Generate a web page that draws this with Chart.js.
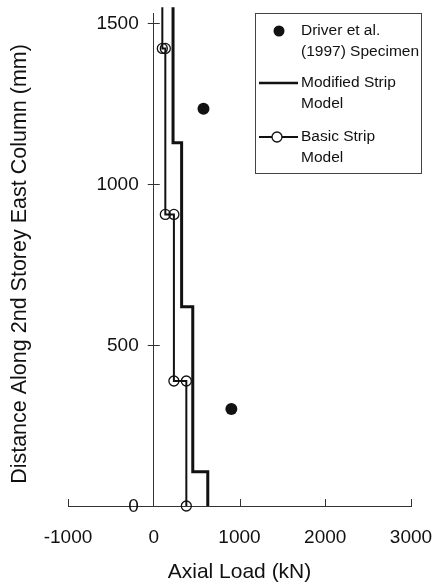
<!DOCTYPE html>
<html>
<head>
<meta charset="utf-8">
<script src="https://cdn.jsdelivr.net/npm/chart.js@4/dist/chart.umd.min.js"></script>
<style>
  html, body { margin: 0; padding: 0; background: #fff; }
  #wrap { width: 434px; height: 588px; }
</style>
</head>
<body>
<div id="wrap"><canvas id="chart1"></canvas></div>
<script>
// values (load in kN, distance in mm)
const driverLoad = [580, 905];
const driverDist = [1233, 301];

const modifiedLoad = [225, 225, 325, 325, 455, 455, 630, 630];
const modifiedDist = [1548, 1127, 1127, 618, 618, 106, 106, 0];

const basicLoad = [100, 100, 135, 135, 235, 235, 380, 380];
const basicDist = [1548, 1420, 1420, 905, 905, 388, 388, 0];
const basicMarks = [0, 5, 5, 5, 5, 5, 5, 5];

const xTicks = [-1000, 0, 1000, 2000, 3000];
const yTicks = [0, 500, 1000, 1500];

const FONT = 'Arial, "Liberation Sans", sans-serif';
const INK = '#111';

const toXY = (xs, ys) => xs.map((v, i) => ({ x: v, y: ys[i] }));

// axes sit inside the plot, so their label overflow should not shrink it
const noPad = s => { s.paddingLeft = s.paddingRight = s.paddingTop = s.paddingBottom = 0; };

// tick marks (upward on x, crossing on y) and the y labels left of the x=0 axis
const tickMarks = {
  id: 'tickMarks',
  afterDatasetsDraw(chart) {
    const { ctx, scales: { x, y } } = chart;
    const x0 = x.getPixelForValue(0);
    const y0 = y.getPixelForValue(0);
    ctx.save();
    ctx.strokeStyle = '#333';
    ctx.lineWidth = 1;
    ctx.beginPath();
    xTicks.forEach(v => {
      if (v === 0) return;
      const px = Math.round(x.getPixelForValue(v)) + 0.5;
      ctx.moveTo(px, y0);
      ctx.lineTo(px, y0 - 7);
    });
    yTicks.forEach(v => {
      if (v === 0) return;
      const py = Math.round(y.getPixelForValue(v)) + 0.5;
      ctx.moveTo(x0 - 6, py);
      ctx.lineTo(x0 + 6, py);
    });
    ctx.stroke();

    ctx.fillStyle = INK;
    ctx.font = '19px ' + FONT;
    ctx.textAlign = 'right';
    ctx.textBaseline = 'middle';
    yTicks.forEach(v => {
      ctx.fillText(String(v), x0 - 15, y.getPixelForValue(v) + 1);
    });
    ctx.restore();
  }
};

const titles = {
  id: 'titles',
  afterDraw(chart) {
    const { ctx, chartArea } = chart;
    ctx.save();
    ctx.fillStyle = INK;
    ctx.font = '21px ' + FONT;
    ctx.textAlign = 'center';
    ctx.textBaseline = 'middle';
    ctx.fillText('Axial Load (kN)', (chartArea.left + chartArea.right) / 2, 572);
    ctx.font = '21.5px ' + FONT;
    ctx.translate(20, 264);
    ctx.rotate(-Math.PI / 2);
    ctx.fillText('Distance Along 2nd Storey East Column (mm)', 0, 0);
    ctx.restore();
  }
};

const boxLegend = {
  id: 'boxLegend',
  afterDraw(chart) {
    const ctx = chart.ctx;
    ctx.save();
    ctx.strokeStyle = '#444';
    ctx.lineWidth = 1;
    ctx.strokeRect(255.5, 13.5, 166, 160);

    ctx.fillStyle = INK;
    ctx.beginPath();
    ctx.arc(279, 31, 5.5, 0, Math.PI * 2);
    ctx.fill();

    ctx.strokeStyle = INK;
    ctx.lineWidth = 2.5;
    ctx.beginPath();
    ctx.moveTo(259, 83);
    ctx.lineTo(298, 83);
    ctx.stroke();

    ctx.lineWidth = 2;
    ctx.beginPath();
    ctx.moveTo(259, 137);
    ctx.lineTo(298, 137);
    ctx.stroke();
    ctx.lineWidth = 1.3;
    ctx.beginPath();
    ctx.arc(277, 137, 5, 0, Math.PI * 2);
    ctx.fillStyle = '#fff';
    ctx.fill();
    ctx.stroke();

    ctx.fillStyle = INK;
    ctx.font = '15.5px ' + FONT;
    ctx.textAlign = 'left';
    ctx.textBaseline = 'middle';
    ctx.fillText('Driver et al.', 301, 31);
    ctx.fillText('(1997) Specimen', 301, 52);
    ctx.fillText('Modified Strip', 301, 83);
    ctx.fillText('Model', 301, 104);
    ctx.fillText('Basic Strip', 301, 137);
    ctx.fillText('Model', 301, 158);
    ctx.restore();
  }
};

const ctx = document.getElementById('chart1');

new Chart(ctx, {
  type: 'scatter',
  data: {
    datasets: [{
      label: 'Driver et al. (1997) Specimen',
      data: toXY(driverLoad, driverDist),
      showLine: false,
      pointRadius: 6,
      pointBackgroundColor: INK,
      pointBorderColor: INK,
      pointBorderWidth: 0
    }, {
      label: 'Modified Strip Model',
      data: toXY(modifiedLoad, modifiedDist),
      showLine: true,
      borderColor: INK,
      borderWidth: 3,
      pointRadius: 0,
      clip: false
    }, {
      label: 'Basic Strip Model',
      data: toXY(basicLoad, basicDist),
      showLine: true,
      borderColor: INK,
      borderWidth: 2,
      pointRadius: basicMarks,
      pointBorderColor: INK,
      pointBorderWidth: 1.3,
      pointBackgroundColor: 'rgba(0,0,0,0)',
      clip: false
    }]
  },
  options: {
    responsive: true,
    maintainAspectRatio: false,
    animation: false,
    devicePixelRatio: 1,
    layout: { padding: { left: 68, right: 23, top: 13, bottom: 82 } },
    scales: {
      x: {
        type: 'linear',
        position: { y: 0 },
        min: -1000,
        max: 3000,
        afterBuildTicks: s => { s.ticks = xTicks.map(v => ({ value: v })); },
        afterFit: noPad,
        grid: { display: false, drawTicks: false },
        border: { display: true, color: '#333', width: 1 },
        ticks: {
          color: INK, font: { family: FONT, size: 19 }, padding: 20, maxRotation: 0,
          callback: v => String(v)
        }
      },
      y: {
        type: 'linear',
        position: { x: 0 },
        min: 0,
        max: 1530,
        afterBuildTicks: s => { s.ticks = yTicks.map(v => ({ value: v })); },
        afterFit: noPad,
        grid: { display: false, drawTicks: false },
        border: { display: true, color: '#333', width: 1 },
        ticks: { display: false }
      }
    },
    plugins: {
      legend: { display: false },
      tooltip: { enabled: false }
    }
  },
  plugins: [tickMarks, titles, boxLegend]
});
</script>
</body>
</html>
